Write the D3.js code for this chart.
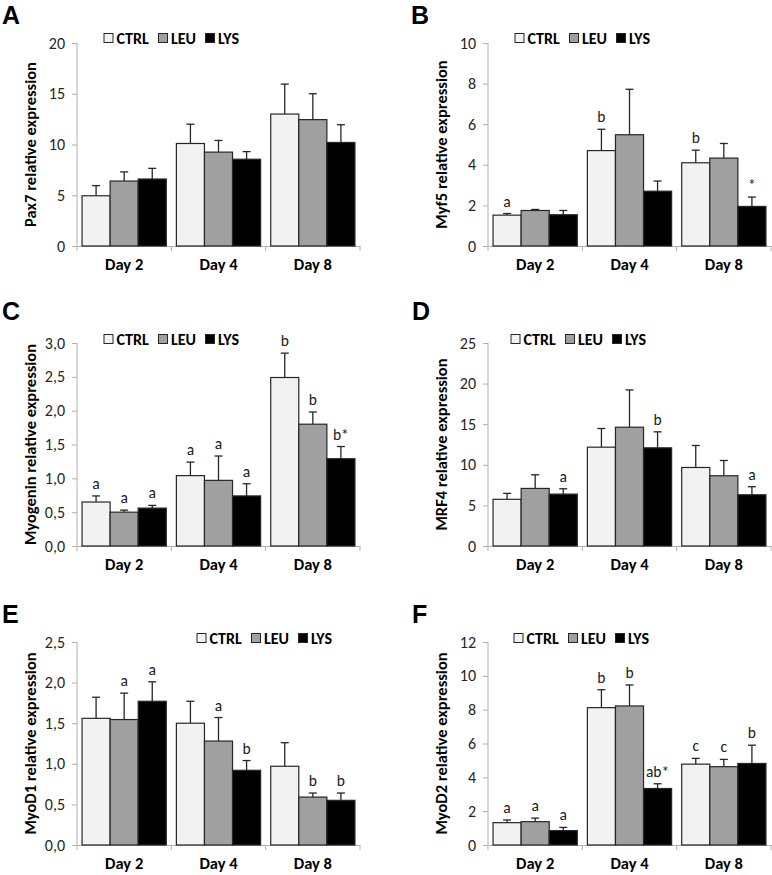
<!DOCTYPE html>
<html>
<head>
<meta charset="utf-8">
<script src="https://cdn.jsdelivr.net/npm/d3@7"></script>
<style>
  body { margin: 0; background: #fff; }
  svg { display: block; }
  text { font-family: Carlito, Lato, "Open Sans", sans-serif; }
  text.letter { font-family: "Liberation Sans", Arial, sans-serif; }
</style>
</head>
<body>
<svg id="chart" width="772" height="875"></svg>
<script>
// ---- data ----
const days = ["Day 2", "Day 4", "Day 8"];
const groups = ["CTRL", "LEU", "LYS"];
const groupColors = ["#f2f2f2", "#a0a0a0", "#000000"];

// Panel A: Pax7
const pax7Mean = [[4.95, 10.1, 13.0], [6.4, 9.25, 12.45], [6.6, 8.55, 10.2]];
const pax7Err  = [[5.95, 12.0, 15.95], [7.3, 10.4, 15.0], [7.65, 9.3, 11.95]];
const pax7Ticks = [0, 5, 10, 15, 20];
const pax7Notes = [["", "", ""], ["", "", ""], ["", "", ""]];

// Panel B: Myf5
const myf5Mean = [[1.52, 4.7, 4.1], [1.75, 5.48, 4.33], [1.54, 2.7, 1.95]];
const myf5Err  = [[1.6, 5.75, 4.72], [1.8, 7.72, 5.05], [1.75, 3.2, 2.41]];
const myf5Ticks = [0, 2, 4, 6, 8, 10];
const myf5Notes = [["a", "b", "b"], ["", "", ""], ["", "", "*"]];

// Panel C: Myogenin
const myogMean = [[0.65, 1.04, 2.49], [0.5, 0.97, 1.8], [0.56, 0.74, 1.29]];
const myogErr  = [[0.74, 1.24, 2.85], [0.53, 1.33, 1.98], [0.6, 0.92, 1.47]];
const myogTicks = [0, 0.5, 1.0, 1.5, 2.0, 2.5, 3.0];
const myogNotes = [["a", "a", "b"], ["a", "a", "b"], ["a", "a", "b*"]];

// Panel D: MRF4
const mrf4Mean = [[5.75, 12.17, 9.67], [7.09, 14.63, 8.65], [6.39, 12.09, 6.31]];
const mrf4Err  = [[6.48, 14.47, 12.38], [8.77, 19.22, 10.53], [7.05, 14.06, 7.3]];
const mrf4Ticks = [0, 5, 10, 15, 20, 25];
const mrf4Notes = [["", "", ""], ["", "", ""], ["a", "b", "a"]];

// Panel E: MyoD1
const myod1Mean = [[1.56, 1.5, 0.97], [1.545, 1.28, 0.59], [1.77, 0.92, 0.55]];
const myod1Err  = [[1.82, 1.77, 1.26], [1.87, 1.57, 0.64], [2.01, 1.04, 0.64]];
const myod1Ticks = [0, 0.5, 1.0, 1.5, 2.0, 2.5];
const myod1Notes = [["", "", ""], ["a", "a", "b"], ["a", "b", "b"]];

// Panel F: MyoD2
const myod2Mean = [[1.32, 8.12, 4.78], [1.38, 8.22, 4.63], [0.85, 3.34, 4.82]];
const myod2Err  = [[1.48, 9.18, 5.12], [1.59, 9.46, 5.06], [1.04, 3.62, 5.9]];
const myod2Ticks = [0, 2, 4, 6, 8, 10, 12];
const myod2Notes = [["a", "b", "c"], ["a", "b", "c"], ["a", "ab*", "b"]];

// ---- layout ----
const panels = [
  { letter: "A", label: "Pax7 relative expression", mean: pax7Mean, err: pax7Err, ticks: pax7Ticks, notes: pax7Notes, comma: false,
    x: 77, y: 43, lx: 104, ly: 38, px: 2, py: 24, yl: 30 },
  { letter: "B", label: "Myf5 relative expression", mean: myf5Mean, err: myf5Err, ticks: myf5Ticks, notes: myf5Notes, comma: false,
    x: 488, y: 43, lx: 515, ly: 38, px: 411, py: 24, yl: 441 },
  { letter: "C", label: "Myogenin relative expression", mean: myogMean, err: myogErr, ticks: myogTicks, notes: myogNotes, comma: true,
    x: 77, y: 343, lx: 104, ly: 339, px: 2, py: 320, yl: 30 },
  { letter: "D", label: "MRF4 relative expression", mean: mrf4Mean, err: mrf4Err, ticks: mrf4Ticks, notes: mrf4Notes, comma: false,
    x: 488, y: 343, lx: 511, ly: 339, px: 412, py: 320, yl: 441 },
  { letter: "E", label: "MyoD1 relative expression", mean: myod1Mean, err: myod1Err, ticks: myod1Ticks, notes: myod1Notes, comma: true,
    x: 77, y: 642, lx: 197, ly: 638, px: 2, py: 623, yl: 30 },
  { letter: "F", label: "MyoD2 relative expression", mean: myod2Mean, err: myod2Err, ticks: myod2Ticks, notes: myod2Notes, comma: false,
    x: 488, y: 642, lx: 514, ly: 638, px: 412, py: 623, yl: 441 }
];

const W = 283, H = 203;
const svg = d3.select("#chart");
const axisColor = "#b0b0b0";
const inkColor = "#262626";
const labelSize = 16.5, daySize = 16.5, tickFont = 16, legSize = 16, noteSize = 15.5;

panels.forEach(p => {
  const g = svg.append("g").attr("transform", `translate(${p.x},${p.y})`);
  const ymax = p.ticks[p.ticks.length - 1];
  const y = d3.scaleLinear().domain([0, ymax]).range([H, 0]);
  const x0 = d3.scaleBand().domain(days).range([0, W]).paddingInner(0).paddingOuter(0);
  const x1 = d3.scaleBand().domain(groups).range([0, x0.bandwidth()]).paddingOuter(0.18).paddingInner(0).align(0.5);

  // y axis
  const fmt = p.comma ? (d => d3.format(".1f")(d).replace(".", ",")) : d3.format("d");
  const yAxis = g.append("g").call(d3.axisLeft(y).tickValues(p.ticks).tickFormat(fmt).tickSize(5).tickPadding(7));
  yAxis.select(".domain").attr("stroke", axisColor).attr("d", `M0,${H}V0`);
  yAxis.selectAll(".tick line").attr("stroke", axisColor);
  yAxis.selectAll(".tick text").attr("font-size", tickFont).attr("fill", inkColor);

  // x axis
  const xAxis = g.append("g").attr("transform", `translate(0,${H})`)
    .call(d3.axisBottom(x0).tickSize(0).tickPadding(12));
  xAxis.select(".domain").attr("stroke", axisColor);
  xAxis.selectAll(".tick text").attr("font-size", daySize).attr("font-weight", "bold").attr("fill", "#000");
  // boundary ticks
  g.append("g").selectAll("line").data([0, 1, 2, 3]).join("line")
    .attr("x1", i => i * x0.step()).attr("x2", i => i * x0.step())
    .attr("y1", H).attr("y2", H + 5).attr("stroke", axisColor);

  // bars
  groups.forEach((grp, gi) => {
    days.forEach((day, di) => {
      const v = p.mean[gi][di], e = p.err[gi][di];
      const bx = x0(day) + x1(grp);
      const bw = x1.bandwidth();
      const cx = bx + bw / 2;
      g.append("line").attr("x1", cx).attr("x2", cx).attr("y1", y(v)).attr("y2", y(e))
        .attr("stroke", inkColor).attr("stroke-width", 1.3);
      g.append("line").attr("x1", cx - 4).attr("x2", cx + 4).attr("y1", y(e)).attr("y2", y(e))
        .attr("stroke", inkColor).attr("stroke-width", 1.3);
      g.append("rect").attr("x", bx).attr("y", y(v)).attr("width", bw).attr("height", H - y(v))
        .attr("fill", groupColors[gi]).attr("stroke", inkColor).attr("stroke-width", 1.2);
      const note = p.notes[gi][di];
      if (note) {
        g.append("text").attr("x", cx).attr("y", y(e) - 7).attr("text-anchor", "middle")
          .attr("font-size", noteSize).attr("fill", "#1a1a1a").text(note);
      }
    });
  });

  // y label
  svg.append("text")
    .attr("transform", `translate(${p.yl},${p.y + H / 2}) rotate(-90)`)
    .attr("text-anchor", "middle").attr("dominant-baseline", "central")
    .attr("font-size", labelSize).attr("font-weight", "bold").attr("fill", "#000").text(p.label);

  // panel letter
  svg.append("text").attr("class", "letter").attr("x", p.px).attr("y", p.py)
    .attr("font-size", 25).attr("font-weight", "bold").attr("fill", "#000").text(p.letter);

  // legend
  const leg = svg.append("g").attr("transform", `translate(${p.lx},${p.ly})`);
  const legOffsets = [0, 54.5, 101.5];
  groups.forEach((grp, gi) => {
    const lg = leg.append("g").attr("transform", `translate(${legOffsets[gi]},0)`);
    lg.append("rect").attr("x", 0).attr("y", -4.5).attr("width", 9).attr("height", 9)
      .attr("fill", groupColors[gi]).attr("stroke", inkColor).attr("stroke-width", 1);
    lg.append("text").attr("x", 12.5).attr("y", 0).attr("dominant-baseline", "central")
      .attr("font-size", legSize).attr("font-weight", "bold").attr("fill", "#000").text(grp);
  });
});
</script>
</body>
</html>
